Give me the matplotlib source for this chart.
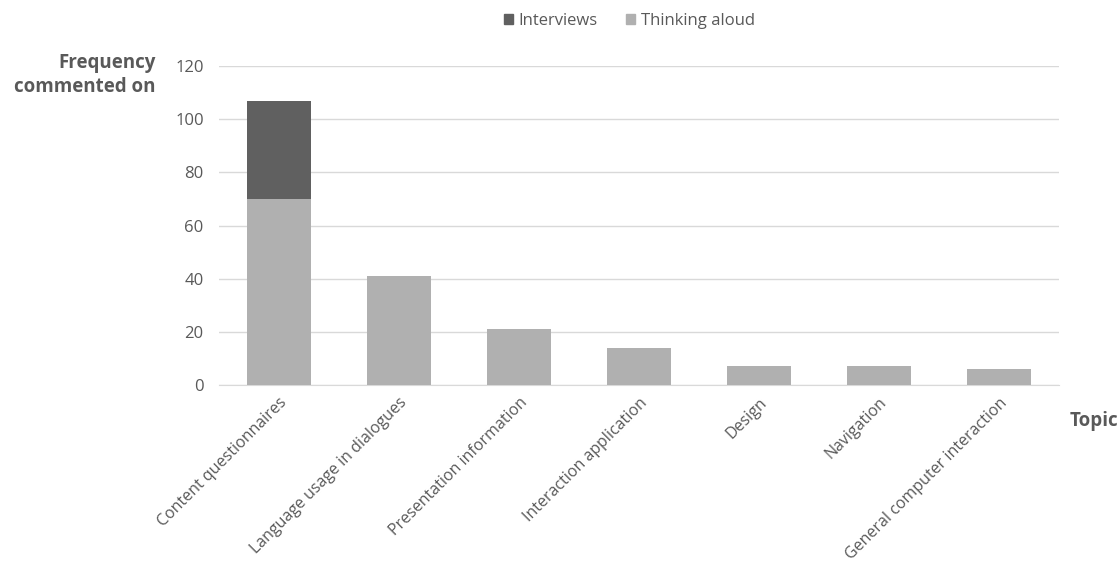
import matplotlib
matplotlib.use('Agg')
from matplotlib import pyplot as plt
from matplotlib.patches import Patch

plt.rcParams['font.family'] = ['Open Sans', 'DejaVu Sans']

topics = ['Content questionnaires', 'Language usage in dialogues', 'Presentation information',
          'Interaction application', 'Design', 'Navigation', 'General computer interaction']
thinking_aloud = [70, 41, 21, 14, 7, 7, 6]
interviews = [37, 0, 0, 0, 0, 0, 0]
y_ticks = [0, 20, 40, 60, 80, 100, 120]

c_think = '#b0b0b0'
c_inter = '#606060'
c_text = '#595959'

fig = plt.figure(figsize=(11.2, 5.79), dpi=100)
ax = fig.add_axes([0.1955, 0.335, 0.75, 0.551])

x = list(range(len(topics)))
ax.bar(x, thinking_aloud, width=0.53, color=c_think, zorder=3)
ax.bar(x, interviews, width=0.53, bottom=thinking_aloud, color=c_inter, zorder=3)

ax.set_xlim(-0.5, len(topics) - 0.5)
ax.set_ylim(0, 120)
ax.set_yticks(y_ticks)
ax.yaxis.grid(True, color='#d9d9d9', linewidth=1, zorder=0)
ax.set_axisbelow(True)
for s in ['top', 'right', 'left']:
    ax.spines[s].set_visible(False)
ax.spines['bottom'].set_color('#d9d9d9')
ax.tick_params(axis='both', length=0, labelcolor=c_text)
ax.tick_params(axis='y', pad=11, labelsize=12)
ax.tick_params(axis='x', pad=7, labelsize=11.5)
ax.set_xticks(x)
ax.set_xticklabels(topics, rotation=45, ha='right', rotation_mode='anchor')

fig.text(0.139, 0.908, 'Frequency\ncommented on', ha='right', va='top',
         fontsize=13.5, fontweight='bold', color=c_text, linespacing=1.25)
fig.text(0.955, 0.273, 'Topic', ha='left', va='center',
         fontsize=13.5, fontweight='bold', color=c_text)

handles = [Patch(color=c_inter, label='Interviews'), Patch(color=c_think, label='Thinking aloud')]
fig.legend(handles=handles, loc='center', bbox_to_anchor=(0.562, 0.964), ncol=2,
           frameon=False, fontsize=12, labelcolor=c_text, handlelength=0.55, handleheight=0.55,
           handletextpad=0.35, columnspacing=1.7)

fig.savefig('out.png', dpi=100, facecolor='white')
